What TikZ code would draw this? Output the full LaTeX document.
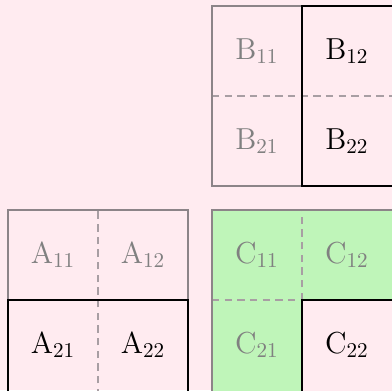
\documentclass[tikz,border=0pt]{standalone}
\definecolor{bgpink}{RGB}{255,235,240}
\definecolor{cgreen}{RGB}{191,245,185}
\definecolor{lgray}{RGB}{140,132,136}
\definecolor{dgray}{RGB}{168,158,163}
\usepackage{tikz}
\usetikzlibrary{positioning}

\begin{document}
\begin{tikzpicture}[
  lbl/.style={font=\Large,text=gray},
  lblon/.style={font=\Large,text=black},
  outline/.style={draw=lgray,line width=0.9pt},
  active/.style={draw=black,line width=1.2pt},
  divline/.style={draw=dgray,line width=0.7pt,dash pattern=on 3.5pt off 2.5pt}
]
\fill[bgpink] (0,0) rectangle (6.533,6.5);
\useasboundingbox (0,0) rectangle (6.533,6.5);
% green part of C
\fill[cgreen] (3.533,-0.1) rectangle (6.6,3);
\fill[bgpink] (5.033,-0.1) rectangle (6.6,1.5);
% dashed splits
\draw[divline] (1.633,-0.1) -- (1.633,3);
\draw[divline] (3.533,4.9) -- (6.6,4.9);
\draw[divline] (5.033,1.5) -- (5.033,3);
\draw[divline] (3.533,1.5) -- (5.033,1.5);
% block outlines
\draw[outline] (0.133,-0.04) rectangle (3.133,3);
\draw[outline] (3.533,3.4) rectangle (6.57,6.4);
\draw[outline] (3.533,-0.04) rectangle (6.57,3);
% highlighted parts
\draw[active] (0.133,-0.04) rectangle (3.133,1.5);
\draw[active] (5.033,3.4) rectangle (6.57,6.4);
\draw[active] (5.033,-0.04) rectangle (6.57,1.5);
% B
\node[lbl] (b11) at (4.283,5.65) {$\mathrm{B}_{11}$};
\node[lblon] (b12) at (5.783,5.65) {$\mathrm{B}_{12}$};
\node[lbl] (b21) at (4.283,4.15) {$\mathrm{B}_{21}$};
\node[lblon] (b22) at (5.783,4.15) {$\mathrm{B}_{22}$};
% A
\node[lbl] (a11) at (0.883,2.25) {$\mathrm{A}_{11}$};
\node[lbl] (a12) at (2.383,2.25) {$\mathrm{A}_{12}$};
\node[lblon] (a21) at (0.883,0.75) {$\mathrm{A}_{21}$};
\node[lblon] (a22) at (2.383,0.75) {$\mathrm{A}_{22}$};
% C
\node[lbl] (c11) at (4.283,2.25) {$\mathrm{C}_{11}$};
\node[lbl] (c12) at (5.783,2.25) {$\mathrm{C}_{12}$};
\node[lbl] (c21) at (4.283,0.75) {$\mathrm{C}_{21}$};
\node[lblon] (c22) at (5.783,0.75) {$\mathrm{C}_{22}$};
\end{tikzpicture}
\end{document}
